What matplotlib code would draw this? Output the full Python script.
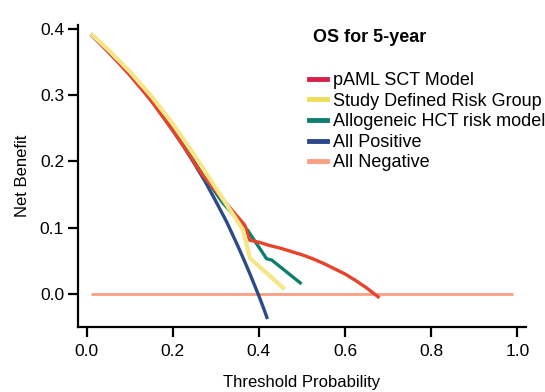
import matplotlib
matplotlib.use("Agg")
import matplotlib.pyplot as plt
from matplotlib.lines import Line2D

plt.rcParams['font.family'] = ['Liberation Sans', 'DejaVu Sans']

# Threshold probabilities and net benefit values
pos_x = [0.01, 0.03, 0.05, 0.075, 0.10, 0.125, 0.15, 0.175, 0.20, 0.225, 0.25, 0.275,
         0.30, 0.325, 0.35, 0.365, 0.38, 0.39, 0.40, 0.41, 0.42]
pos_y = [0.392, 0.379, 0.366, 0.349, 0.331, 0.312, 0.292, 0.270, 0.247, 0.223, 0.197,
         0.170, 0.140, 0.109, 0.074, 0.052, 0.029, 0.013, -0.003, -0.020, -0.038]

neg_x = [0.01, 0.99]
neg_y = [0.0, 0.0]

paml_x = [0.01, 0.05, 0.10, 0.15, 0.20, 0.225, 0.25, 0.27, 0.317, 0.367, 0.379,
          0.40, 0.425, 0.45, 0.475, 0.50, 0.525, 0.55, 0.575, 0.60, 0.625, 0.65, 0.68]
paml_y = [0.392, 0.366, 0.331, 0.292, 0.247, 0.223, 0.198, 0.179, 0.142, 0.104, 0.081,
          0.078, 0.073, 0.069, 0.064, 0.059, 0.053, 0.046, 0.038, 0.030, 0.020, 0.009, -0.006]

study_x = [0.01, 0.05, 0.10, 0.15, 0.20, 0.25, 0.30, 0.333, 0.363, 0.379, 0.46]
study_y = [0.393, 0.369, 0.336, 0.299, 0.257, 0.210, 0.160, 0.127, 0.097, 0.054, 0.007]

allo_x = [0.01, 0.05, 0.10, 0.15, 0.20, 0.225, 0.25, 0.27, 0.317, 0.374, 0.418, 0.430, 0.499]
allo_y = [0.393, 0.368, 0.334, 0.295, 0.250, 0.225, 0.200, 0.180, 0.137, 0.096, 0.053, 0.051, 0.015]

labels = ["pAML SCT Model", "Study Defined Risk Group", "Allogeneic HCT risk model",
          "All Positive", "All Negative"]
line_colors = ["#E8432B", "#F7E688", "#0E7F6E", "#2B4A8B", "#F9A082"]
legend_colors = ["#D8214A", "#EEDD5A", "#0E7F6E", "#2B4A8B", "#F9A082"]

fig = plt.figure(figsize=(5.45, 3.92), dpi=100)
ax = fig.add_axes([0.143, 0.166, 0.822, 0.770])

ax.plot(neg_x, neg_y, color=line_colors[4], lw=2.0, solid_capstyle='butt', zorder=2)
ax.plot(pos_x, pos_y, color=line_colors[3], lw=2.4, solid_capstyle='butt', zorder=3)
ax.plot(allo_x, allo_y, color=line_colors[2], lw=2.4, solid_capstyle='butt', zorder=4)
ax.plot(study_x, study_y, color=line_colors[1], lw=3.0, solid_capstyle='butt', zorder=5)
ax.plot(paml_x, paml_y, color=line_colors[0], lw=2.4, solid_capstyle='butt', zorder=4.5)

ax.set_xlim(-0.02, 1.02)
ax.set_ylim(-0.05, 0.406)
ax.set_xticks([0.0, 0.2, 0.4, 0.6, 0.8, 1.0])
ax.set_xticklabels(["0.0", "0.2", "0.4", "0.6", "0.8", "1.0"])
ax.set_yticks([0.0, 0.1, 0.2, 0.3, 0.4])
ax.set_yticklabels(["0.0", "0.1", "0.2", "0.3", "0.4"])
for s in ['top', 'right']:
    ax.spines[s].set_visible(False)
for s in ['left', 'bottom']:
    ax.spines[s].set_linewidth(1.6)
ax.tick_params(axis='both', length=7, width=1.6, labelsize=12.5)
ax.tick_params(axis='x', pad=5)
ax.tick_params(axis='y', pad=3)
ax.set_xlabel("Threshold Probability", fontsize=12, labelpad=12)
ax.set_ylabel("Net Benefit", fontsize=12, labelpad=7)

fig.text(313 / 545, 1 - 37 / 392, "OS for 5-year", fontsize=13, fontweight='bold',
         ha='left', va='center')

handles = [Line2D([0], [0], color=c, lw=3.5) for c in legend_colors]
leg = fig.legend(handles, labels, loc='upper left', bbox_to_anchor=(309 / 545, 1 - 72 / 392),
                 frameon=False, fontsize=13, handlelength=1.0, handletextpad=0.35,
                 labelspacing=0.2, borderaxespad=0, borderpad=0)

fig.savefig("out.png", dpi=100)
